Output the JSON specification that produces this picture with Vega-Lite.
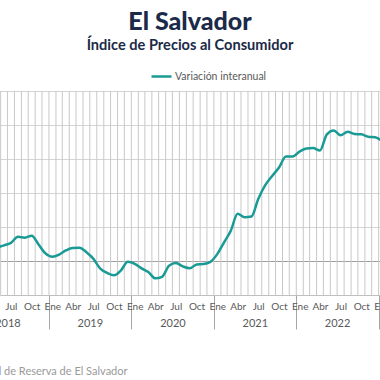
{
  "$schema": "https://vega.github.io/schema/vega-lite/v6.json",
  "autosize": {"type": "none"},
  "width": 380,
  "height": 204,
  "padding": {"top": 91, "left": 0, "right": 0, "bottom": 85},
  "background": "white",
  "config": {
    "view": {"stroke": null},
    "font": "Lato",
    "axis": {"labelFont": "Lato", "titleFont": "Lato"}
  },
  "title": {
    "text": "El Salvador",
    "subtitle": "Índice de Precios al Consumidor",
    "anchor": "middle",
    "font": "Lato",
    "fontSize": 25,
    "fontWeight": 900,
    "color": "#1b2a48",
    "subtitleFont": "Lato",
    "subtitleFontSize": 14.6,
    "subtitleFontWeight": "bold",
    "subtitleColor": "#1b2a48",
    "subtitlePadding": 3,
    "offset": 12
  },
  "data": {
    "values": [
      {"date": "2018-05", "value": 0.80},
      {"date": "2018-06", "value": 0.92},
      {"date": "2018-07", "value": 1.07},
      {"date": "2018-08", "value": 1.42},
      {"date": "2018-09", "value": 1.37},
      {"date": "2018-10", "value": 1.49},
      {"date": "2018-11", "value": 0.97},
      {"date": "2018-12", "value": 0.45},
      {"date": "2019-01", "value": 0.25},
      {"date": "2019-02", "value": 0.38},
      {"date": "2019-03", "value": 0.62},
      {"date": "2019-04", "value": 0.77},
      {"date": "2019-05", "value": 0.78},
      {"date": "2019-06", "value": 0.52},
      {"date": "2019-07", "value": 0.14},
      {"date": "2019-08", "value": -0.45},
      {"date": "2019-09", "value": -0.70},
      {"date": "2019-10", "value": -0.84},
      {"date": "2019-11", "value": -0.55},
      {"date": "2019-12", "value": -0.05},
      {"date": "2020-01", "value": -0.17},
      {"date": "2020-02", "value": -0.43},
      {"date": "2020-03", "value": -0.65},
      {"date": "2020-04", "value": -1.02},
      {"date": "2020-05", "value": -0.93},
      {"date": "2020-06", "value": -0.28},
      {"date": "2020-07", "value": -0.12},
      {"date": "2020-08", "value": -0.32},
      {"date": "2020-09", "value": -0.43},
      {"date": "2020-10", "value": -0.20},
      {"date": "2020-11", "value": -0.18},
      {"date": "2020-12", "value": -0.05},
      {"date": "2021-01", "value": 0.42},
      {"date": "2021-02", "value": 1.10},
      {"date": "2021-03", "value": 1.77},
      {"date": "2021-04", "value": 2.78},
      {"date": "2021-05", "value": 2.58},
      {"date": "2021-06", "value": 2.62},
      {"date": "2021-07", "value": 3.65},
      {"date": "2021-08", "value": 4.46},
      {"date": "2021-09", "value": 5.00},
      {"date": "2021-10", "value": 5.50},
      {"date": "2021-11", "value": 6.15},
      {"date": "2021-12", "value": 6.15},
      {"date": "2022-01", "value": 6.45},
      {"date": "2022-02", "value": 6.62},
      {"date": "2022-03", "value": 6.64},
      {"date": "2022-04", "value": 6.50},
      {"date": "2022-05", "value": 7.45},
      {"date": "2022-06", "value": 7.68},
      {"date": "2022-07", "value": 7.39},
      {"date": "2022-08", "value": 7.60},
      {"date": "2022-09", "value": 7.47},
      {"date": "2022-10", "value": 7.45},
      {"date": "2022-11", "value": 7.31},
      {"date": "2022-12", "value": 7.28},
      {"date": "2023-01", "value": 7.05}
    ],
    "format": {"parse": {"date": "utc:'%Y-%m'"}}
  },
  "layer": [
    {
      "mark": {"type": "rule", "color": "#c8c8c8", "strokeWidth": 1, "clip": true},
      "encoding": {
        "x": {
          "field": "date",
          "timeUnit": "utcyearmonth",
          "type": "temporal",
          "scale": {
            "type": "utc",
            "domain": [
              {"year": 2018, "month": 5, "date": 29, "utc": true},
              {"year": 2023, "month": 1, "date": 7, "utc": true}
            ]
          },
          "axis": {
            "orient": "bottom",
            "title": null,
            "tickCount": {"interval": "month", "step": 1},
            "grid": false,
            "domain": true,
            "domainColor": "#bfbfbf",
            "ticks": true,
            "tickColor": "#a6a6a6",
            "tickSize": {"condition": {"test": "utcmonth(datum.value) === 0", "value": 34}, "value": 0},
            "labels": false
          }
        }
      }
    },
    {
      "mark": {"type": "line", "strokeWidth": 2.5, "interpolate": "monotone", "clip": true},
      "encoding": {
        "x": {
          "field": "date",
          "timeUnit": "utcyearmonth",
          "type": "temporal",
          "bandPosition": 0.5,
          "axis": {
            "orient": "bottom",
            "title": null,
            "tickCount": {"interval": "month", "step": 1},
            "grid": false,
            "domain": false,
            "ticks": false,
            "labelExpr": "['Ene','','','Abr','','','Jul','','','Oct','',''][utcmonth(datum.value)]",
            "labelOffset": 3.4,
            "labelPadding": 6,
            "labelFontSize": 10,
            "labelColor": "#595959",
            "labelFlush": false,
            "labelOverlap": false,
            "labelBound": false
          }
        },
        "y": {
          "field": "value",
          "type": "quantitative",
          "scale": {"domain": [-2, 10], "nice": false, "zero": false},
          "axis": {
            "title": null,
            "labels": false,
            "ticks": false,
            "domain": false,
            "grid": true,
            "tickCount": 6,
            "gridOpacity": 1,
            "gridWidth": 1,
            "gridColor": {"condition": {"test": "datum.value === 0", "value": "#a0a0a0"}, "value": "#d4d4d4"}
          }
        },
        "color": {
          "datum": "Variación interanual",
          "scale": {"range": ["#1a9a95"]},
          "legend": {
            "orient": "none",
            "legendX": 150,
            "legendY": -26,
            "title": null,
            "symbolType": "stroke",
            "symbolSize": 400,
            "symbolStrokeWidth": 2.5,
            "labelFont": "Lato",
            "labelFontSize": 10.5,
            "labelColor": "#595959",
            "labelOffset": 2
          }
        }
      }
    },
    {
      "mark": {"type": "line", "strokeOpacity": 0, "clip": true},
      "encoding": {
        "x": {
          "field": "date",
          "timeUnit": "utcyearmonth",
          "type": "temporal",
          "bandPosition": 0.5,
          "axis": {
            "orient": "bottom",
            "values": [
              {"year": 2018, "month": 7, "date": 1, "utc": true},
              {"year": 2019, "month": 7, "date": 1, "utc": true},
              {"year": 2020, "month": 7, "date": 1, "utc": true},
              {"year": 2021, "month": 7, "date": 1, "utc": true},
              {"year": 2022, "month": 7, "date": 1, "utc": true}
            ],
            "labelExpr": "utcFormat(datum.value, '%Y')",
            "grid": false,
            "ticks": false,
            "domain": false,
            "labelPadding": 22,
            "labelFontSize": 11,
            "labelColor": "#595959",
            "labelFlush": false,
            "labelOverlap": false,
            "labelBound": false,
            "title": "Fuente: Banco Central de Reserva de El Salvador",
            "titleFont": "Lato",
            "titleFontSize": 11,
            "titleFontWeight": "normal",
            "titleColor": "#9a9a9a",
            "titleAlign": "right",
            "titleAnchor": null,
            "titleX": 127,
            "titleY": 79,
            "titleBaseline": "alphabetic"
          }
        }
      }
    }
  ],
  "resolve": {"axis": {"x": "independent"}}
}
